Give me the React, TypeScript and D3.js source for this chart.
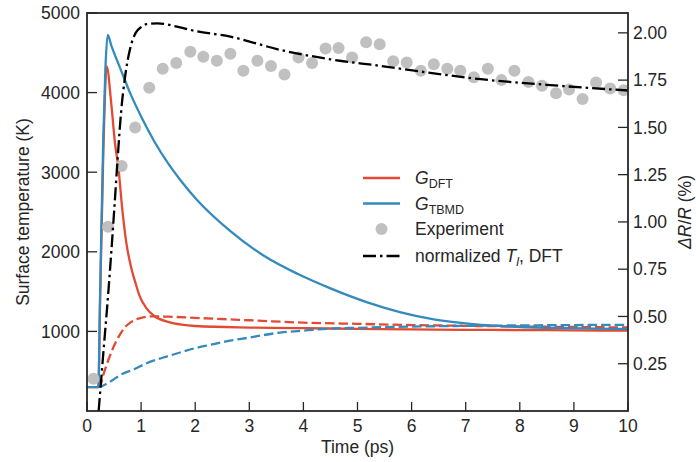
import React from "react";
import * as d3 from "d3";

// ---------- data ----------
const redSolidT = [0, 0.21, 0.24, 0.3, 0.364, 0.45, 0.52, 0.58, 0.65, 0.73, 0.8, 0.9, 0.97, 1.1, 1.25, 1.5, 1.75, 2, 3, 4, 5, 6, 7, 8, 9, 10];
const redSolidV = [300, 300, 1300, 3200, 4330, 3850, 3350, 3060, 2550, 2100, 1850, 1600, 1450, 1290, 1190, 1120, 1085, 1068, 1048, 1040, 1032, 1025, 1020, 1017, 1013, 1010];

const blueSolidT = [0, 0.21, 0.24, 0.3, 0.34, 0.383, 0.45, 0.5, 0.6, 0.8, 1.0, 1.25, 1.5, 1.75, 2.03, 2.65, 3.27, 3.9, 4.5, 5.18, 5.8, 6.41, 7, 7.65, 8.5, 9.2, 10];
const blueSolidV = [300, 300, 1400, 3400, 4300, 4725, 4590, 4500, 4330, 3990, 3700, 3380, 3110, 2880, 2654, 2260, 1950, 1720, 1540, 1365, 1240, 1152, 1100, 1066, 1045, 1037, 1031];

const redDashT = [0.2, 0.24, 0.3, 0.4, 0.5, 0.6, 0.7, 0.8, 0.95, 1.2, 1.5, 2, 3, 4, 5, 6, 7, 8, 9, 10];
const redDashV = [300, 310, 450, 650, 820, 950, 1050, 1110, 1160, 1190, 1185, 1170, 1140, 1110, 1095, 1080, 1070, 1062, 1055, 1050];

const blueDashT = [0.2, 0.24, 0.3, 0.5, 0.61, 0.89, 1.1, 1.5, 1.72, 2, 2.34, 2.5, 2.96, 3.57, 4, 4.5, 5, 6, 7, 8, 9, 10];
const blueDashV = [300, 305, 320, 400, 450, 530, 600, 690, 735, 790, 840, 865, 918, 985, 1010, 1035, 1045, 1060, 1070, 1075, 1080, 1082];

const tlT = [0.215, 0.3, 0.4, 0.5, 0.57, 0.63, 0.7, 0.8, 0.9, 1.0, 1.1, 1.3, 1.7, 2.0, 2.65, 3.57, 4.5, 5.43, 6.3, 7.28, 8.5, 10];
const tlV = [0, 0.3, 0.65, 1.05, 1.35, 1.58, 1.76, 1.92, 2.0, 2.03, 2.046, 2.05, 2.03, 2.01, 1.98, 1.91, 1.86, 1.825, 1.79, 1.755, 1.725, 1.695];

const expT = [0.12, 0.39, 0.64, 0.89, 1.15, 1.4, 1.65, 1.91, 2.15, 2.4, 2.65, 2.89, 3.15, 3.4, 3.65, 3.91, 4.16, 4.41, 4.65, 4.9, 5.16, 5.41, 5.66, 5.91, 6.17, 6.41, 6.66, 6.9, 7.15, 7.41, 7.66, 7.9, 8.16, 8.41, 8.67, 8.91, 9.16, 9.41, 9.67, 9.92];
const expV = [0.17, 0.975, 1.296, 1.5, 1.71, 1.81, 1.84, 1.9, 1.873, 1.852, 1.89, 1.8, 1.852, 1.825, 1.78, 1.87, 1.84, 1.917, 1.92, 1.87, 1.95, 1.94, 1.85, 1.843, 1.8, 1.834, 1.81, 1.8, 1.765, 1.81, 1.75, 1.8, 1.74, 1.72, 1.68, 1.7, 1.65, 1.737, 1.706, 1.697];

const xTicks = [0, 1, 2, 3, 4, 5, 6, 7, 8, 9, 10];
const leftTicks = [1000, 2000, 3000, 4000, 5000];
const rightTicks = [0.25, 0.5, 0.75, 1.0, 1.25, 1.5, 1.75, 2.0];

// ---------- layout ----------
const W = 696, H = 462;
const L = 87, R = 628, T = 13, B = 411;
const RED = "#E24A33", BLUE = "#348ABD", GREY = "#c0c0c0", INK = "#262626";
const FONT = "'Liberation Sans', Arial, Helvetica, sans-serif";
const FS = 17.5;
const LW = 2.3;

export default function App() {
  const x = d3.scaleLinear().domain([0, 10]).range([L, R]);
  const yL = d3.scaleLinear().domain([0, 5000]).range([B, T]);
  const yR = d3.scaleLinear().domain([0, 2.105]).range([B, T]);

  const mk = (ts: number[], vs: number[], ys: d3.ScaleLinear<number, number>) =>
    d3.line<number>().x((_, i) => x(ts[i])).y((v) => ys(v)).curve(d3.curveMonotoneX)(vs) || "";

  const dashed = "9.5,4";
  const dashdot = "13,4,2.5,4";

  const legendRows = [178, 203.5, 229, 256];
  const lx0 = 363, lx1 = 400, tx = 415;

  return (
    <svg width={W} height={H} style={{ position: "absolute", left: 0, top: 0, background: "#fff" }} fontFamily={FONT}>
      <defs>
        <clipPath id="plot"><rect x={L} y={T} width={R - L} height={B - T} /></clipPath>
      </defs>
      <rect x={0} y={0} width={W} height={H} fill="#fff" />
      <g clipPath="url(#plot)" fill="none" strokeWidth={LW}>
        <path d={mk(redSolidT, redSolidV, yL)} stroke={RED} />
        <path d={mk(redDashT, redDashV, yL)} stroke={RED} strokeDasharray={dashed} />
        <path d={mk(blueSolidT, blueSolidV, yL)} stroke={BLUE} />
        <path d={mk(blueDashT, blueDashV, yL)} stroke={BLUE} strokeDasharray={dashed} />
        {expT.map((t, i) => (
          <circle key={i} cx={x(t)} cy={yR(expV[i])} r={6} fill={GREY} stroke="none" />
        ))}
        <path d={mk(tlT, tlV, yR)} stroke="#000" strokeWidth={LW} strokeDasharray={dashdot} />
      </g>

      {/* frame */}
      <rect x={L} y={T} width={R - L} height={B - T} fill="none" stroke={INK} strokeWidth={1.8} />

      {/* x ticks */}
      {xTicks.map((t) => (
        <g key={"x" + t}>
          <line x1={x(t)} x2={x(t)} y1={B} y2={B - 9} stroke={INK} strokeWidth={1.3} />
          <text x={x(t)} y={B + 20.5} textAnchor="middle" fontSize={FS} fill={INK}>{t}</text>
        </g>
      ))}
      {/* left ticks */}
      {leftTicks.map((v) => (
        <g key={"l" + v}>
          <line x1={L} x2={L + 10} y1={yL(v)} y2={yL(v)} stroke={INK} strokeWidth={1.3} />
          <text x={L - 7} y={yL(v) + 6.3} textAnchor="end" fontSize={FS} fill={INK}>{v}</text>
        </g>
      ))}
      {/* right ticks */}
      {rightTicks.map((v) => (
        <g key={"r" + v}>
          <line x1={R} x2={R - 10} y1={yR(v)} y2={yR(v)} stroke={INK} strokeWidth={1.3} />
          <text x={R + 5} y={yR(v) + 6.3} textAnchor="start" fontSize={FS} fill={INK}>{v.toFixed(2)}</text>
        </g>
      ))}

      {/* axis titles */}
      <text x={(L + R) / 2} y={453} textAnchor="middle" fontSize={FS} fill={INK}>Time (ps)</text>
      <text transform={`translate(29, ${(T + B) / 2}) rotate(-90)`} textAnchor="middle" fontSize={FS} fill={INK}>
        Surface temperature (K)
      </text>
      <text transform={`translate(691, ${(T + B) / 2}) rotate(-90)`} textAnchor="middle" fontSize={FS} fill={INK}>
        <tspan fontStyle="italic">ΔR</tspan>/<tspan fontStyle="italic">R</tspan> (%)
      </text>

      {/* legend */}
      <g fontSize={FS} fill={INK}>
        <line x1={lx0} x2={lx1} y1={legendRows[0]} y2={legendRows[0]} stroke={RED} strokeWidth={LW} />
        <text x={tx} y={legendRows[0] + 6}>
          <tspan fontStyle="italic">G</tspan>
          <tspan fontSize={12.5} dy={4}>DFT</tspan>
        </text>
        <line x1={lx0} x2={lx1} y1={legendRows[1]} y2={legendRows[1]} stroke={BLUE} strokeWidth={LW} />
        <text x={tx} y={legendRows[1] + 6}>
          <tspan fontStyle="italic">G</tspan>
          <tspan fontSize={12.5} dy={4}>TBMD</tspan>
        </text>
        <circle cx={(lx0 + lx1) / 2} cy={legendRows[2]} r={6} fill={GREY} />
        <text x={tx} y={legendRows[2] + 6}>Experiment</text>
        <line x1={lx0} x2={lx1} y1={legendRows[3]} y2={legendRows[3]} stroke="#000" strokeWidth={LW} strokeDasharray={dashdot} />
        <text x={tx} y={legendRows[3] + 6}>
          normalized <tspan fontStyle="italic">T</tspan>
          <tspan fontStyle="italic" fontSize={12.5} dy={4}>l</tspan>
          <tspan dy={-4}>, DFT</tspan>
        </text>
      </g>
    </svg>
  );
}
